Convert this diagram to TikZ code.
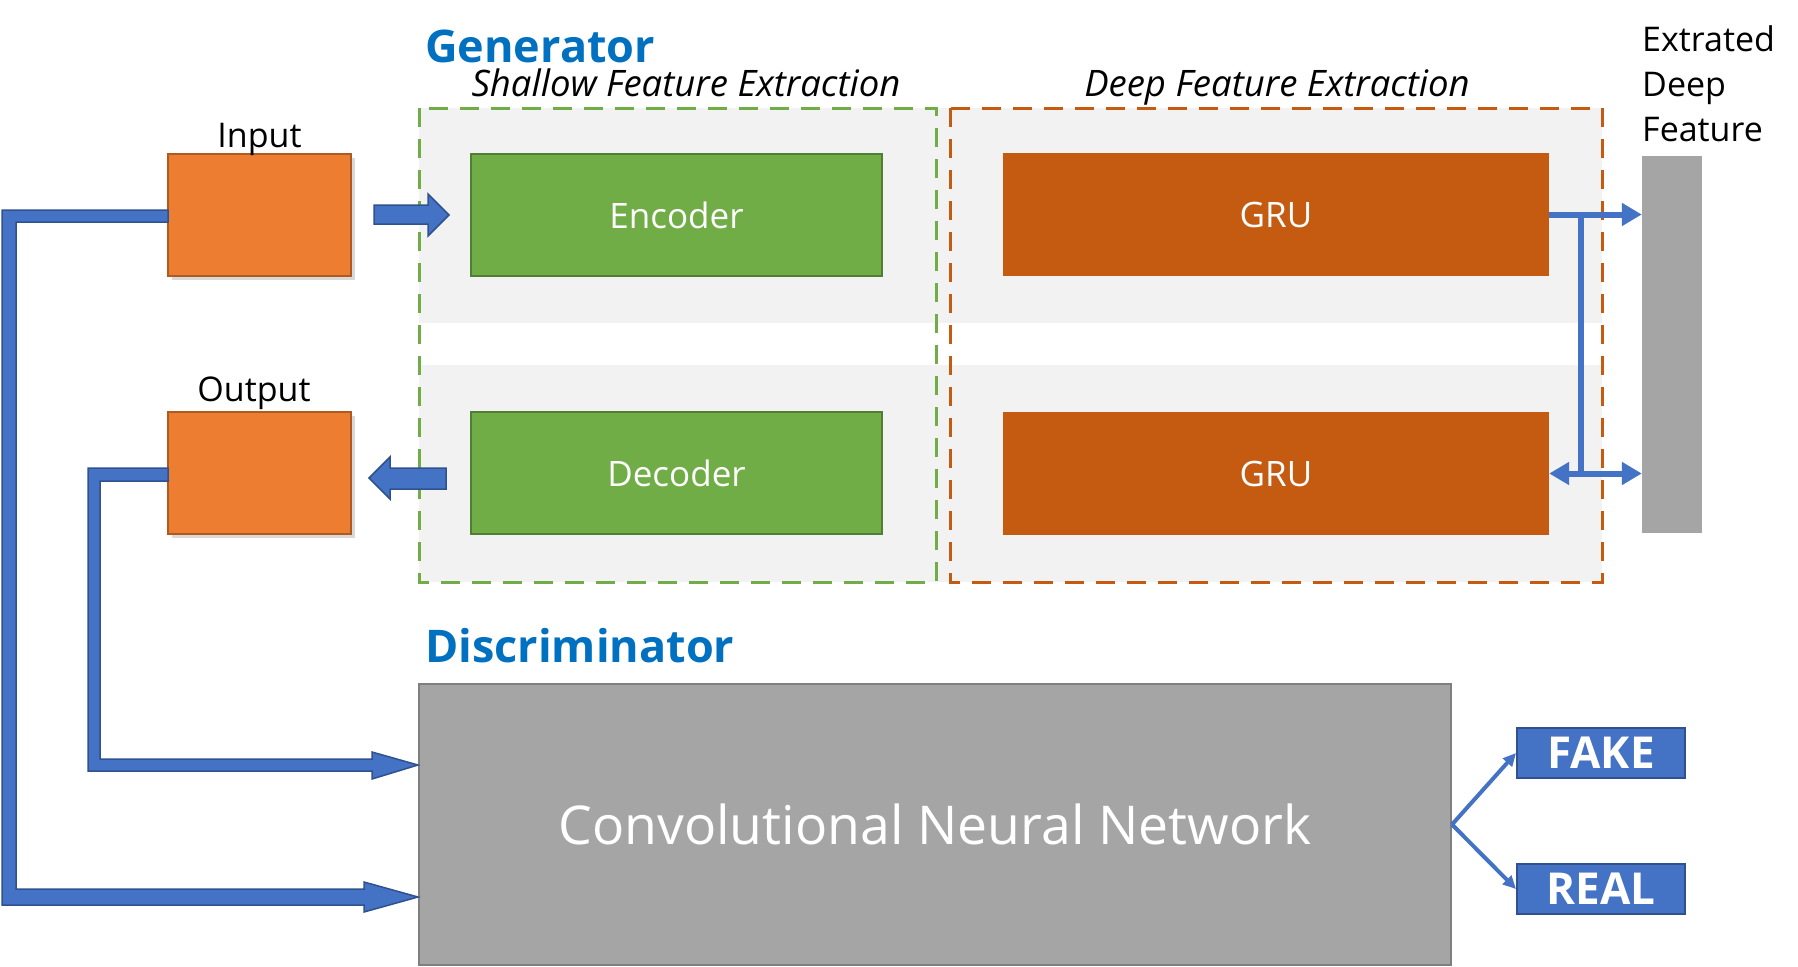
\documentclass[tikz,border=0pt]{standalone}
\usepackage{fontspec}
\setmainfont{Open Sans}
\usetikzlibrary{arrows.meta,shadows,calc}
\definecolor{band}{HTML}{F2F2F2}
\definecolor{gline}{HTML}{70AD47}
\definecolor{gdark}{HTML}{507E32}
\definecolor{oline}{HTML}{C55A11}
\definecolor{orfill}{HTML}{ED7D31}
\definecolor{ordark}{HTML}{AE5A21}
\definecolor{bluef}{HTML}{4472C4}
\definecolor{blued}{HTML}{2F528F}
\definecolor{greyf}{HTML}{A5A5A5}
\definecolor{greyd}{HTML}{7F7F7F}
\definecolor{titleblue}{HTML}{0070C0}
\tikzset{
  fs/.style={font=\fontsize{#1}{#1}\selectfont},
  iobox/.style={rectangle, fill=orfill, draw=ordark, line width=1.5pt, minimum width=183pt, minimum height=122pt, inner sep=0pt,
    drop shadow={shadow xshift=4pt, shadow yshift=-4pt, opacity=0.3}},
  codbox/.style={rectangle, fill=gline, draw=gdark, line width=1.5pt, minimum width=411pt, minimum height=122pt, inner sep=0pt, text=white, fs=35},
  grubox/.style={rectangle, fill=oline, minimum width=546pt, minimum height=123pt, inner sep=0pt, text=white, fs=35},
  labtext/.style={inner sep=0pt, fs=34},
  titletext/.style={inner sep=0pt, anchor=base west, text=titleblue, font=\fontsize{45}{45}\selectfont\bfseries},
  subtitle/.style={inner sep=0pt, anchor=base, font=\fontsize{36.5}{36.5}\selectfont\itshape},
  blockarrow/.style={fill=bluef, draw=blued, line width=1.5pt, line join=miter},
  gruarrow/.style={draw=bluef, line width=6pt},
  outarrow/.style={draw=bluef, line width=4pt, -{Triangle[length=13pt,width=12pt]}},
  resbox/.style={rectangle, fill=bluef, draw=blued, line width=2pt, minimum width=168pt, minimum height=50pt, inner sep=0pt, text=white, font=\fontsize{44}{44}\selectfont\bfseries},
}
\begin{document}
\begin{tikzpicture}[x=1pt,y=-1pt]
\useasboundingbox (0,0) rectangle (1798,966);
% background bands
\fill[band] (419,108) rectangle (1602,323);
\fill[band] (419,365) rectangle (1602,582);
% dashed group boxes
\draw[gline, line width=3pt, dash pattern=on 19pt off 12pt] (419,108) rectangle (936,582);
\draw[oline, line width=3pt, dash pattern=on 19pt off 12pt] (950,108) rectangle (1602,582);
% titles
\node[titletext] (gen) at (425,63) {Generator};
\node[titletext] (dis) at (425,662) {Discriminator};
\node[subtitle] (sfe) at (686,96) {Shallow Feature Extraction};
\node[subtitle] (dfe) at (1277,96) {Deep Feature Extraction};
% input / output
\node[iobox] (inp) at (259.5,215) {};
\node[iobox] (out) at (259.5,473) {};
\node[labtext, anchor=base] (inplab) at (259.5,147) {Input};
\node[labtext, anchor=base] (outlab) at (254,401) {Output};
% encoder / decoder
\node[codbox] (enc) at (676.5,215) {Encoder};
\node[codbox] (dec) at (676.5,473) {Decoder};
% GRUs
\node[grubox] (gru1) at (1276,214.5) {GRU};
\node[grubox] (gru2) at (1276,473.5) {GRU};
% extracted feature bar
\node[rectangle, fill=greyf, minimum width=60pt, minimum height=377pt, inner sep=0pt] (bar) at (1672,344.5) {};
\node[labtext, anchor=base west] (ex1) at (1642,52) {Extrated};
\node[labtext, anchor=base west] (ex2) at (1642,96) {Deep};
\node[labtext, anchor=base west] (ex3) at (1642,141) {Feature};
% CNN
\node[rectangle, fill=greyf, draw=greyd, line width=2pt, minimum width=1032pt, minimum height=281pt, inner sep=0pt, text=white, fs=53.5] (cnn) at (935,824.5) {Convolutional Neural Network};
% results
\node[resbox] (fake) at (1601,753) {FAKE};
\node[resbox] (real) at (1601,889) {REAL};
% block arrows
\draw[blockarrow] (374,205) -- (428,205) -- (428,194) -- (449,215) -- (428,236) -- (428,224) -- (374,224) -- cycle;
\draw[blockarrow] (446,468) -- (390,468) -- (390,457) -- (369,478) -- (390,499) -- (390,489) -- (446,489) -- cycle;
\draw[blockarrow] (168,210) -- (2,210) -- (2,905) -- (364,905) -- (364,912) -- (418,897) -- (364,882) -- (364,889) -- (16,889) -- (16,222) -- (168,222) -- cycle;
\draw[blockarrow] (168,468) -- (88,468) -- (88,771) -- (372,771) -- (372,779) -- (418,765) -- (372,752) -- (372,759) -- (100,759) -- (100,481) -- (168,481) -- cycle;
% GRU arrows
\coordinate (j1) at (1580.5,214.5);
\coordinate (j2) at (1580.5,475.5);
\draw[gruarrow, -{Triangle[length=20pt,width=22pt]}] (gru1.east) -- (gru1.east -| bar.west);
\draw[gruarrow] (j1) -- (j2);
\draw[gruarrow, {Triangle[length=20pt,width=22pt]}-{Triangle[length=20pt,width=22pt]}] (gru2.east) -- (gru2.east -| bar.west);
% results arrows
\draw[outarrow] (cnn.east) -- (fake.west);
\draw[outarrow] (cnn.east) -- (real.west);
\end{tikzpicture}
\end{document}
